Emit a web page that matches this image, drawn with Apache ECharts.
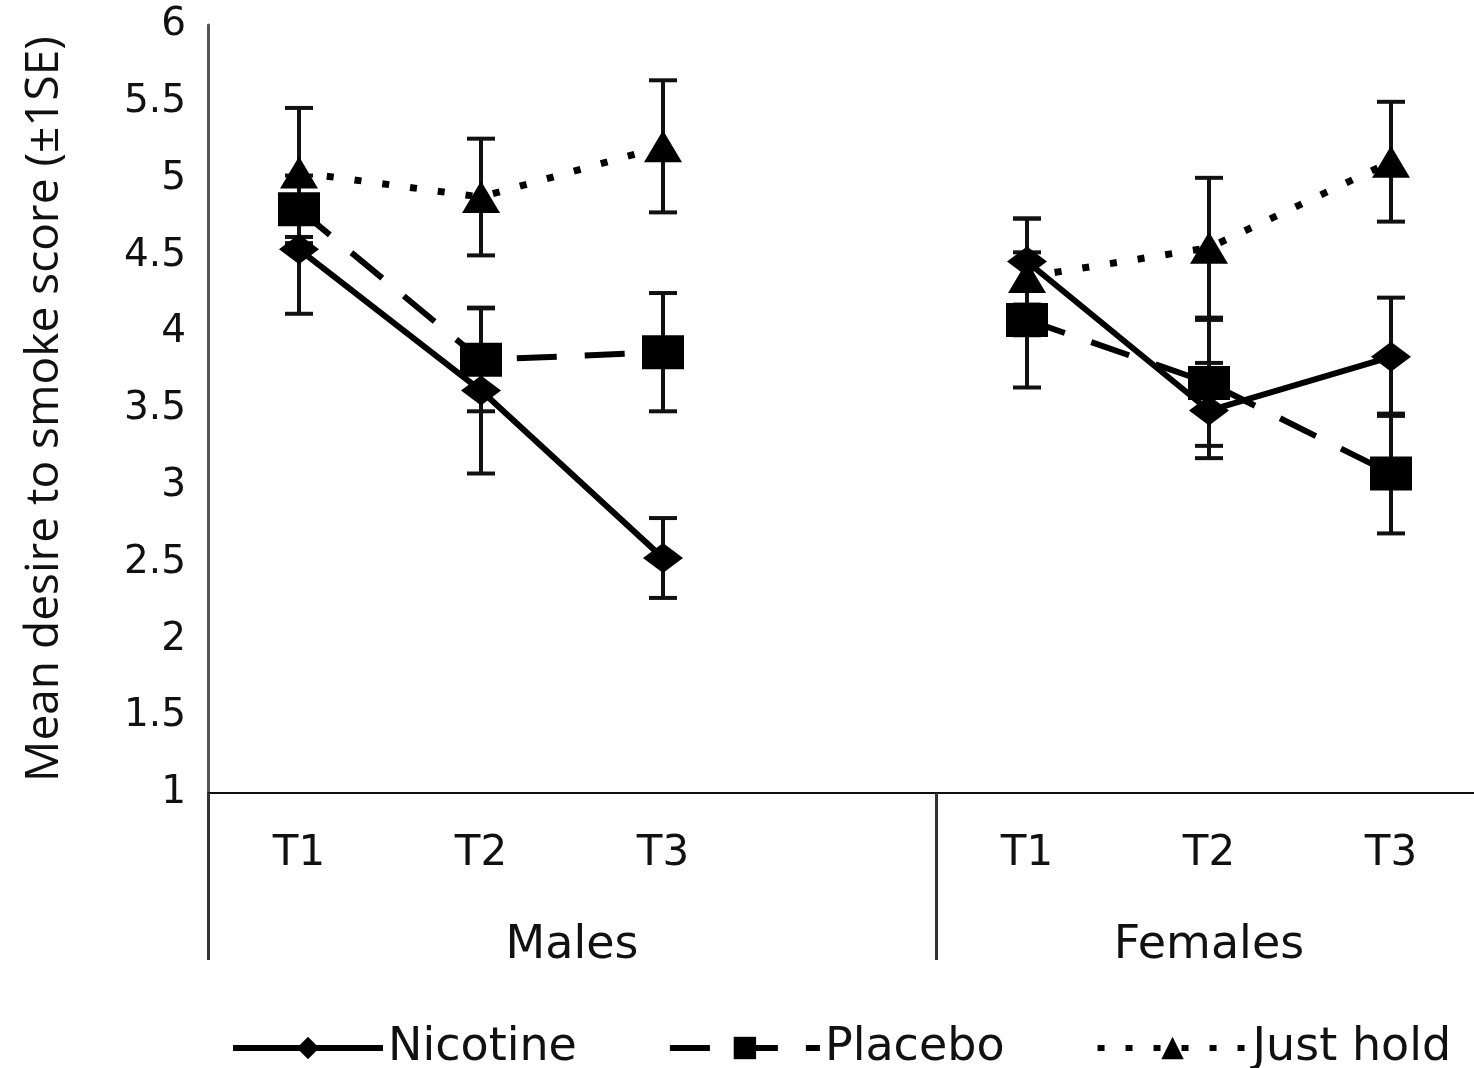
<!DOCTYPE html>
<html>
<head>
<meta charset="utf-8">
<script src="https://cdn.jsdelivr.net/npm/echarts@6/dist/echarts.min.js"></script>
<style>
  html, body { margin: 0; padding: 0; background: #fff; }
  #chart { width: 1474px; height: 1068px; }
</style>
</head>
<body>
<div id="chart"></div>
<script>
// categories (blank slot separates Males / Females)
var categories = ['T1', 'T2', 'T3', '', 'T1', 'T2', 'T3'];
var groupNames = ['Males', 'Females'];
var groupCentres = [2, 5.5];   // in category units along the axis
var yTicks = [1, 1.5, 2, 2.5, 3, 3.5, 4, 4.5, 5, 5.5, 6];

var nicotineMean = [4.54, 3.62, 2.53, null, 4.46, 3.49, 3.84];
var nicotineSE   = [0.42, 0.54, 0.26, null, 0.28, 0.31, 0.385];
var placeboMean  = [4.80, 3.82, 3.87, null, 4.08, 3.67, 3.08];
var placeboSE    = [0.22, 0.335, 0.385, null, 0.44, 0.41, 0.39];
var holdMean     = [5.04, 4.88, 5.21, null, 4.36, 4.55, 5.11];
var holdSE       = [0.42, 0.38, 0.43, null, 0.38, 0.455, 0.39];

var FONT = 'DejaVu Sans';

function errData(mean, se){
  var out = [];
  for (var i = 0; i < mean.length; i++){
    if (mean[i] == null) continue;
    out.push([i, mean[i] - se[i], mean[i] + se[i]]);
  }
  return out;
}

function renderErr(params, api){
  var lo = api.coord([api.value(0), api.value(1)]);
  var hi = api.coord([api.value(0), api.value(2)]);
  var half = 14;
  var st = { stroke: '#111', lineWidth: 4 };
  return {
    type: 'group',
    children: [
      { type: 'line', shape: { x1: lo[0], y1: lo[1], x2: hi[0], y2: hi[1] }, style: st },
      { type: 'line', shape: { x1: lo[0] - half, y1: lo[1], x2: lo[0] + half, y2: lo[1] }, style: st },
      { type: 'line', shape: { x1: hi[0] - half, y1: hi[1], x2: hi[0] + half, y2: hi[1] }, style: st }
    ]
  };
}

function errSeries(mean, se){
  return {
    type: 'custom',
    renderItem: renderErr,
    data: errData(mean, se),
    encode: { x: 0, y: [1, 2] },
    z: 1,
    silent: true,
    tooltip: { show: false }
  };
}

var option = {
  backgroundColor: '#fff',
  animation: false,
  grid: { left: 208, top: 25, width: 1274, height: 768, outerBoundsMode: 'none' },
  legend: {
    left: 230,
    top: 1025,
    width: 1244,
    padding: 0,
    itemWidth: 150,
    itemHeight: 28,
    itemGap: 90,
    lineStyle: { width: 6 },
    textStyle: { fontFamily: FONT, fontSize: 46, color: '#111' },
    data: ['Nicotine', 'Placebo', 'Just hold']
  },
  xAxis: [
    {
      type: 'category',
      data: categories,
      axisLine: { onZero: false, lineStyle: { color: '#111', width: 2 } },
      axisTick: {
        show: true,
        length: 167,
        interval: function (i) { return i === 0 || i === 4; },
        lineStyle: { color: '#333', width: 3 }
      },
      axisLabel: { fontFamily: FONT, fontSize: 42, color: '#111', margin: 40, interval: 0 },
      splitLine: { show: false }
    },
    {
      type: 'value',
      min: 0,
      max: 7,
      interval: 0.5,
      position: 'bottom',
      axisLine: { show: false },
      axisTick: { show: false },
      splitLine: { show: false },
      axisLabel: {
        fontFamily: FONT, fontSize: 46, color: '#111', margin: 130,
        showMinLabel: true, showMaxLabel: true,
        formatter: function (v) {
          var k = groupCentres.indexOf(v);
          return k >= 0 ? groupNames[k] : '';
        }
      }
    }
  ],
  yAxis: {
    type: 'value',
    min: yTicks[0],
    max: yTicks[yTicks.length - 1],
    interval: 0.5,
    name: 'Mean desire to smoke score (±1SE)',
    nameLocation: 'middle',
    nameGap: 140,
    nameTextStyle: { fontFamily: 'Open Sans', fontSize: 46, color: '#111' },
    axisLine: { show: true, lineStyle: { color: '#555', width: 3 } },
    axisTick: { show: false },
    splitLine: { show: false },
    axisLabel: { fontFamily: FONT, fontSize: 39, color: '#111', margin: 22 }
  },
  series: [
    errSeries(nicotineMean, nicotineSE),
    errSeries(placeboMean, placeboSE),
    errSeries(holdMean, holdSE),
    {
      name: 'Nicotine',
      type: 'line',
      data: nicotineMean,
      connectNulls: false,
      symbol: 'diamond',
      symbolSize: [40, 30],
      lineStyle: { color: '#000', width: 6, type: 'solid' },
      itemStyle: { color: '#000' },
      z: 3
    },
    {
      name: 'Placebo',
      type: 'line',
      data: placeboMean,
      connectNulls: false,
      symbol: 'rect',
      symbolSize: [42, 34],
      lineStyle: { color: '#000', width: 6, type: [40, 28] },
      itemStyle: { color: '#000' },
      z: 3
    },
    {
      name: 'Just hold',
      type: 'line',
      data: holdMean,
      connectNulls: false,
      symbol: 'triangle',
      symbolSize: [38, 32],
      lineStyle: { color: '#000', width: 7, type: [7, 21] },
      itemStyle: { color: '#000' },
      z: 3
    }
  ]
};

var myChart = echarts.init(document.getElementById('chart'));
myChart.setOption(option);
window.addEventListener('resize', function () { myChart.resize(); });
</script>
</body>
</html>
